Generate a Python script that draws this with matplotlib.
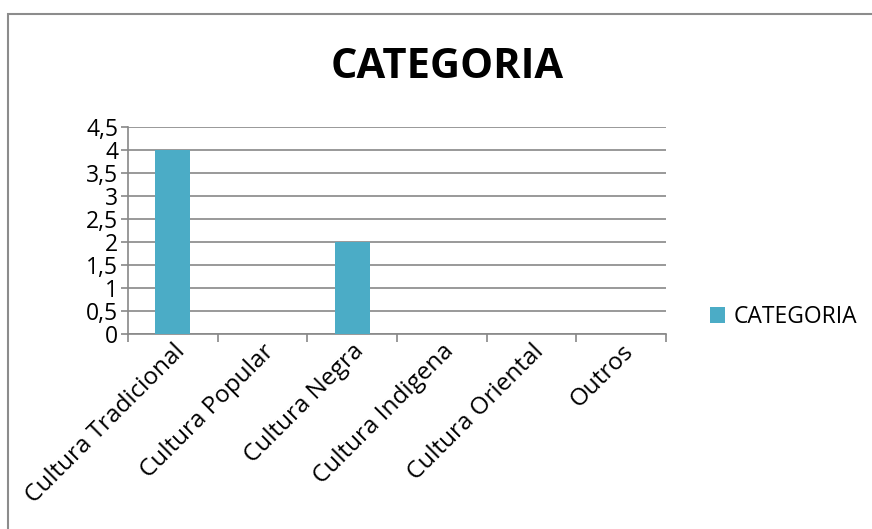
import matplotlib.pyplot as plt
from matplotlib.patches import Rectangle
import numpy as np

categorias = ["Cultura Tradicional", "Cultura Popular", "Cultura Negra",
              "Cultura Indigena", "Cultura Oriental", "Outros"]
valores = [4, 0, 2, 0, 0, 0]
yticks = [0, 0.5, 1, 1.5, 2, 2.5, 3, 3.5, 4, 4.5]
ytick_labels = ["0", "0,5", "1", "1,5", "2", "2,5", "3", "3,5", "4", "4,5"]

plt.rcParams["font.family"] = ["Open Sans", "DejaVu Sans"]

fig = plt.figure(figsize=(8.72, 5.29), dpi=100)
fig.patches.append(Rectangle((8 / 872, -0.2), 1.2, 1.2 - 14 / 529,
                             transform=fig.transFigure, fill=False,
                             edgecolor="#8c8c8c", linewidth=1.5))

ax = fig.add_axes([128 / 872, 1 - 334 / 529, 538 / 872, 207 / 529])
x = np.arange(len(categorias))
ax.bar(x, valores, width=0.39, color="#4bacc6", label="CATEGORIA", zorder=3)

ax.set_xlim(-0.5, len(categorias) - 0.5)
ax.set_ylim(0, 4.5)
ax.set_yticks(yticks)
ax.set_yticklabels(ytick_labels, fontsize=16.5)
ax.yaxis.grid(True, color="#888888", linewidth=1.2, zorder=0)

ax.set_xticks(x)
ax.set_xticklabels(categorias, rotation=45, ha="right", rotation_mode="anchor", fontsize=17.5)
ax.tick_params(axis="x", length=0, pad=4)
ax.set_xticks(np.arange(-0.5, len(categorias)), minor=True)
ax.tick_params(axis="x", which="minor", length=6, color="#888888", width=1.2)
ax.tick_params(axis="y", length=5, color="#888888", width=1.2, pad=2)

for s in ["top", "right"]:
    ax.spines[s].set_visible(False)
for s in ["left", "bottom"]:
    ax.spines[s].set_color("#888888")
    ax.spines[s].set_linewidth(1.2)

fig.text(447 / 872, 1 - 68 / 529, "CATEGORIA", fontsize=30, fontweight="bold",
         ha="center", va="center")
fig.legend(loc="center left", bbox_to_anchor=(689 / 872, 1 - 317 / 529), frameon=False,
           fontsize=16.5, handlelength=0.65, handleheight=0.65, handletextpad=0.4)

fig.savefig("out.png", dpi=100)
